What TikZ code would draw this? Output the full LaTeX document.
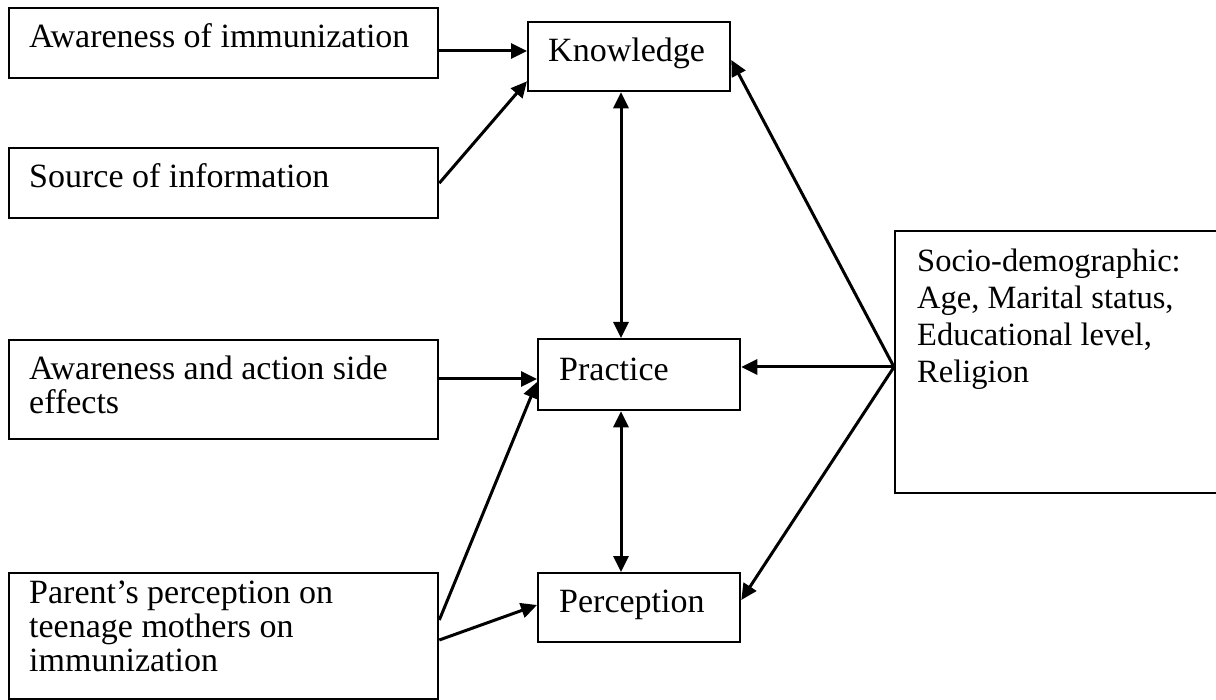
\documentclass[tikz,border=0pt]{standalone}
\usepackage{fontspec}
\setmainfont{Liberation Serif}
\usetikzlibrary{arrows.meta}
\tikzset{
  box/.style={draw=black, line width=2.3pt, rectangle, inner sep=0pt},
  lbl/.style={anchor=base west, inner sep=0pt, align=left,
    font=\fontsize{34}{34}\selectfont},
  slbl/.style={anchor=base west, inner sep=0pt, align=left,
    font=\fontsize{32.5}{37}\selectfont},
  arr/.style={line width=3pt, -{Triangle[length=16pt,width=15pt]}},
  darr/.style={line width=3pt, {Triangle[length=16pt,width=15pt]}-{Triangle[length=16pt,width=15pt]}},
}
\begin{document}
\begin{tikzpicture}[x=1pt, y=-1pt]
\useasboundingbox (0,0) rectangle (1216,700);
\clip (0,0) rectangle (1216,700);
\fill[white] (0,0) rectangle (1216,700);
% boxes
\node[box, minimum width=429pt, minimum height=70pt, anchor=north west] (A1) at (8,7) {};
\node[box, minimum width=429pt, minimum height=70pt, anchor=north west] (Src) at (8,147) {};
\node[box, minimum width=429pt, minimum height=99pt, anchor=north west] (AA) at (8,339) {};
\node[box, minimum width=429pt, minimum height=126pt, anchor=north west] (Par) at (8,572) {};
\node[box, minimum width=202pt, minimum height=69pt, anchor=north west] (Kn) at (527,21) {};
\node[box, minimum width=202pt, minimum height=71pt, anchor=north west] (Pr) at (537,338) {};
\node[box, minimum width=202pt, minimum height=69pt, anchor=north west] (Pe) at (537,572) {};
\node[box, minimum width=330pt, minimum height=262pt, anchor=north west] (So) at (894,230) {};
% texts
\node[lbl] (tA1) at (29,48) {Awareness of immunization};
\node[lbl] (tSrc) at (29,188) {Source of information};
\node[lbl, font=\fontsize{34}{34}\selectfont] (tAA) at (29,414) {Awareness and action side\\effects};
\node[lbl, font=\fontsize{34}{34}\selectfont] (tPar) at (29,671) {Parent’s perception on\\teenage mothers on\\immunization};
\node[lbl] (tKn) at (548,62) {Knowledge};
\node[lbl] (tPr) at (559,381) {Practice};
\node[lbl] (tPe) at (559,612) {Perception};
\node[slbl] (tSo) at (917,383) {Socio-demographic:\\Age, Marital status,\\Educational level,\\Religion};
% connectors
\coordinate (sp) at (894,367);
\draw[arr] (A1.east |- 0,51) -- (Kn.west |- 0,51);
\draw[arr] (Src.east) -- ([yshift=11pt]Kn.south west);
\draw[darr] (Kn.south -| 621,0) -- (Pr.north -| 621,0);
\draw[arr] (AA.east |- 0,379) -- (Pr.west |- 0,379);
\draw[arr] (Par.east |- 0,620) -- (Pr.west |- 0,382);
\draw[arr] (Par.east |- 0,640) -- (Pe.west |- 0,605);
\draw[darr] (Pr.south -| 621,0) -- (Pe.north -| 621,0);
\draw[arr] (sp) -- (Kn.east |- 0,60);
\draw[arr] (sp) -- (Pr.east |- sp);
\draw[arr] (sp) -- (Pe.east |- 0,600);
\end{tikzpicture}
\end{document}
